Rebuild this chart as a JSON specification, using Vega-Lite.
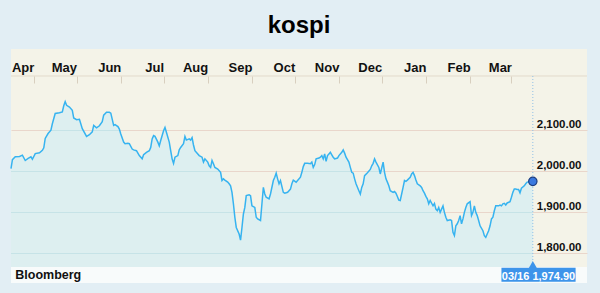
{
  "$schema": "https://vega.github.io/schema/vega-lite/v6.json",
  "width": 576,
  "height": 234,
  "autosize": {"type": "none"},
  "padding": {"left": 11, "top": 49, "right": 13, "bottom": 10},
  "background": "#e2eef4",
  "title": {"text": "kospi", "font": "Liberation Sans, Arial, sans-serif", "fontSize": 24, "fontWeight": "bold", "color": "#000000", "anchor": "middle", "baseline": "alphabetic", "offset": -8},
  "config": {"view": {"fill": "#f4f3e8", "stroke": null}, "font": "Liberation Sans, Arial, sans-serif"},
  "data": {"values": [
    {"date": "2015-03-16", "value": 2006}, {"date": "2015-03-17", "value": 2028}, {"date": "2015-03-19", "value": 2035}, {"date": "2015-03-22", "value": 2036}, {"date": "2015-03-24", "value": 2039}, {"date": "2015-03-26", "value": 2026}, {"date": "2015-03-28", "value": 2031}, {"date": "2015-03-30", "value": 2035}, {"date": "2015-03-31", "value": 2029},
    {"date": "2015-04-02", "value": 2043}, {"date": "2015-04-05", "value": 2045}, {"date": "2015-04-07", "value": 2051}, {"date": "2015-04-08", "value": 2057}, {"date": "2015-04-09", "value": 2080}, {"date": "2015-04-11", "value": 2092}, {"date": "2015-04-13", "value": 2100}, {"date": "2015-04-14", "value": 2116}, {"date": "2015-04-16", "value": 2141}, {"date": "2015-04-19", "value": 2143}, {"date": "2015-04-21", "value": 2145}, {"date": "2015-04-22", "value": 2160}, {"date": "2015-04-23", "value": 2170}, {"date": "2015-04-24", "value": 2161}, {"date": "2015-04-26", "value": 2157}, {"date": "2015-04-28", "value": 2149}, {"date": "2015-04-29", "value": 2130},
    {"date": "2015-05-01", "value": 2126}, {"date": "2015-05-03", "value": 2127}, {"date": "2015-05-05", "value": 2104}, {"date": "2015-05-08", "value": 2085}, {"date": "2015-05-10", "value": 2089}, {"date": "2015-05-12", "value": 2096}, {"date": "2015-05-13", "value": 2112}, {"date": "2015-05-15", "value": 2106}, {"date": "2015-05-17", "value": 2111}, {"date": "2015-05-19", "value": 2121}, {"date": "2015-05-20", "value": 2137}, {"date": "2015-05-22", "value": 2144}, {"date": "2015-05-24", "value": 2144}, {"date": "2015-05-25", "value": 2142}, {"date": "2015-05-27", "value": 2112}, {"date": "2015-05-28", "value": 2114}, {"date": "2015-05-30", "value": 2109}, {"date": "2015-05-31", "value": 2103},
    {"date": "2015-06-01", "value": 2091}, {"date": "2015-06-03", "value": 2071}, {"date": "2015-06-04", "value": 2067}, {"date": "2015-06-06", "value": 2068}, {"date": "2015-06-07", "value": 2067}, {"date": "2015-06-09", "value": 2054}, {"date": "2015-06-10", "value": 2052}, {"date": "2015-06-12", "value": 2050}, {"date": "2015-06-13", "value": 2044}, {"date": "2015-06-14", "value": 2038}, {"date": "2015-06-16", "value": 2030}, {"date": "2015-06-17", "value": 2040}, {"date": "2015-06-19", "value": 2046}, {"date": "2015-06-21", "value": 2050}, {"date": "2015-06-22", "value": 2058}, {"date": "2015-06-23", "value": 2079}, {"date": "2015-06-24", "value": 2087}, {"date": "2015-06-25", "value": 2085}, {"date": "2015-06-27", "value": 2071}, {"date": "2015-06-28", "value": 2062}, {"date": "2015-06-29", "value": 2075},
    {"date": "2015-07-01", "value": 2099}, {"date": "2015-07-02", "value": 2107}, {"date": "2015-07-03", "value": 2095}, {"date": "2015-07-05", "value": 2071}, {"date": "2015-07-06", "value": 2050}, {"date": "2015-07-07", "value": 2030}, {"date": "2015-07-08", "value": 2019}, {"date": "2015-07-09", "value": 2034}, {"date": "2015-07-11", "value": 2038}, {"date": "2015-07-12", "value": 2052}, {"date": "2015-07-13", "value": 2058}, {"date": "2015-07-15", "value": 2067}, {"date": "2015-07-16", "value": 2085}, {"date": "2015-07-17", "value": 2076}, {"date": "2015-07-19", "value": 2079}, {"date": "2015-07-20", "value": 2076}, {"date": "2015-07-21", "value": 2082}, {"date": "2015-07-22", "value": 2064}, {"date": "2015-07-23", "value": 2050}, {"date": "2015-07-26", "value": 2038}, {"date": "2015-07-28", "value": 2034}, {"date": "2015-07-29", "value": 2022}, {"date": "2015-07-30", "value": 2030},
    {"date": "2015-08-01", "value": 2022}, {"date": "2015-08-02", "value": 2013}, {"date": "2015-08-03", "value": 2009}, {"date": "2015-08-04", "value": 2026}, {"date": "2015-08-05", "value": 2018}, {"date": "2015-08-06", "value": 2009}, {"date": "2015-08-08", "value": 2005}, {"date": "2015-08-10", "value": 1997}, {"date": "2015-08-11", "value": 1977}, {"date": "2015-08-12", "value": 1981}, {"date": "2015-08-13", "value": 1978}, {"date": "2015-08-15", "value": 1973}, {"date": "2015-08-16", "value": 1969}, {"date": "2015-08-17", "value": 1964}, {"date": "2015-08-18", "value": 1948}, {"date": "2015-08-19", "value": 1920}, {"date": "2015-08-20", "value": 1887}, {"date": "2015-08-21", "value": 1862}, {"date": "2015-08-23", "value": 1846}, {"date": "2015-08-24", "value": 1831}, {"date": "2015-08-25", "value": 1862}, {"date": "2015-08-26", "value": 1895}, {"date": "2015-08-27", "value": 1911}, {"date": "2015-08-28", "value": 1940}, {"date": "2015-08-30", "value": 1942}, {"date": "2015-08-31", "value": 1940},
    {"date": "2015-09-01", "value": 1915}, {"date": "2015-09-02", "value": 1913}, {"date": "2015-09-03", "value": 1911}, {"date": "2015-09-04", "value": 1887}, {"date": "2015-09-05", "value": 1883}, {"date": "2015-09-07", "value": 1879}, {"date": "2015-09-08", "value": 1920}, {"date": "2015-09-09", "value": 1960}, {"date": "2015-09-10", "value": 1944}, {"date": "2015-09-11", "value": 1936}, {"date": "2015-09-13", "value": 1932}, {"date": "2015-09-14", "value": 1944}, {"date": "2015-09-16", "value": 1977}, {"date": "2015-09-17", "value": 1985}, {"date": "2015-09-18", "value": 1995}, {"date": "2015-09-19", "value": 1981}, {"date": "2015-09-20", "value": 1969}, {"date": "2015-09-21", "value": 1977}, {"date": "2015-09-23", "value": 1948}, {"date": "2015-09-24", "value": 1946}, {"date": "2015-09-26", "value": 1948}, {"date": "2015-09-27", "value": 1952}, {"date": "2015-09-28", "value": 1956}, {"date": "2015-09-29", "value": 1969}, {"date": "2015-09-30", "value": 1978},
    {"date": "2015-10-02", "value": 1973}, {"date": "2015-10-03", "value": 1977}, {"date": "2015-10-05", "value": 1985}, {"date": "2015-10-06", "value": 1997}, {"date": "2015-10-07", "value": 2011}, {"date": "2015-10-08", "value": 2019}, {"date": "2015-10-10", "value": 2019}, {"date": "2015-10-12", "value": 2018}, {"date": "2015-10-13", "value": 2022}, {"date": "2015-10-14", "value": 2009}, {"date": "2015-10-15", "value": 2016}, {"date": "2015-10-16", "value": 2030}, {"date": "2015-10-18", "value": 2032}, {"date": "2015-10-19", "value": 2034}, {"date": "2015-10-20", "value": 2038}, {"date": "2015-10-21", "value": 2030}, {"date": "2015-10-22", "value": 2042}, {"date": "2015-10-23", "value": 2024}, {"date": "2015-10-24", "value": 2038}, {"date": "2015-10-25", "value": 2042}, {"date": "2015-10-26", "value": 2046}, {"date": "2015-10-27", "value": 2040}, {"date": "2015-10-28", "value": 2034}, {"date": "2015-10-29", "value": 2030}, {"date": "2015-10-31", "value": 2032},
    {"date": "2015-11-01", "value": 2038}, {"date": "2015-11-03", "value": 2046}, {"date": "2015-11-04", "value": 2052}, {"date": "2015-11-05", "value": 2044}, {"date": "2015-11-06", "value": 2034}, {"date": "2015-11-08", "value": 2022}, {"date": "2015-11-09", "value": 2009}, {"date": "2015-11-10", "value": 1997}, {"date": "2015-11-11", "value": 1995}, {"date": "2015-11-12", "value": 1981}, {"date": "2015-11-13", "value": 1969}, {"date": "2015-11-15", "value": 1952}, {"date": "2015-11-16", "value": 1944}, {"date": "2015-11-17", "value": 1960}, {"date": "2015-11-18", "value": 1969}, {"date": "2015-11-19", "value": 1989}, {"date": "2015-11-21", "value": 1996}, {"date": "2015-11-23", "value": 2004}, {"date": "2015-11-24", "value": 2013}, {"date": "2015-11-25", "value": 2019}, {"date": "2015-11-26", "value": 2030}, {"date": "2015-11-27", "value": 2022}, {"date": "2015-11-29", "value": 2009}, {"date": "2015-11-30", "value": 1993},
    {"date": "2015-12-02", "value": 2022}, {"date": "2015-12-03", "value": 1997}, {"date": "2015-12-04", "value": 1981}, {"date": "2015-12-05", "value": 1973}, {"date": "2015-12-06", "value": 1964}, {"date": "2015-12-07", "value": 1952}, {"date": "2015-12-09", "value": 1948}, {"date": "2015-12-10", "value": 1950}, {"date": "2015-12-11", "value": 1946}, {"date": "2015-12-12", "value": 1938}, {"date": "2015-12-13", "value": 1929}, {"date": "2015-12-14", "value": 1928}, {"date": "2015-12-15", "value": 1944}, {"date": "2015-12-16", "value": 1960}, {"date": "2015-12-17", "value": 1977}, {"date": "2015-12-18", "value": 1975}, {"date": "2015-12-19", "value": 1978}, {"date": "2015-12-21", "value": 1985}, {"date": "2015-12-22", "value": 1993}, {"date": "2015-12-23", "value": 1997}, {"date": "2015-12-24", "value": 1989}, {"date": "2015-12-25", "value": 1978}, {"date": "2015-12-26", "value": 1969}, {"date": "2015-12-28", "value": 1964}, {"date": "2015-12-29", "value": 1960}, {"date": "2015-12-30", "value": 1952}, {"date": "2015-12-31", "value": 1946},
    {"date": "2016-01-01", "value": 1938}, {"date": "2016-01-02", "value": 1932}, {"date": "2016-01-03", "value": 1920}, {"date": "2016-01-04", "value": 1928}, {"date": "2016-01-06", "value": 1915}, {"date": "2016-01-07", "value": 1921}, {"date": "2016-01-08", "value": 1907}, {"date": "2016-01-09", "value": 1903}, {"date": "2016-01-10", "value": 1911}, {"date": "2016-01-11", "value": 1899}, {"date": "2016-01-12", "value": 1907}, {"date": "2016-01-13", "value": 1915}, {"date": "2016-01-14", "value": 1899}, {"date": "2016-01-15", "value": 1887}, {"date": "2016-01-16", "value": 1879}, {"date": "2016-01-18", "value": 1881}, {"date": "2016-01-19", "value": 1879}, {"date": "2016-01-20", "value": 1850}, {"date": "2016-01-21", "value": 1842}, {"date": "2016-01-22", "value": 1866}, {"date": "2016-01-23", "value": 1871}, {"date": "2016-01-24", "value": 1879}, {"date": "2016-01-25", "value": 1891}, {"date": "2016-01-26", "value": 1871}, {"date": "2016-01-27", "value": 1883}, {"date": "2016-01-28", "value": 1899}, {"date": "2016-01-29", "value": 1911}, {"date": "2016-01-30", "value": 1920},
    {"date": "2016-02-01", "value": 1925}, {"date": "2016-02-02", "value": 1891}, {"date": "2016-02-03", "value": 1899}, {"date": "2016-02-04", "value": 1915}, {"date": "2016-02-05", "value": 1899}, {"date": "2016-02-06", "value": 1891}, {"date": "2016-02-07", "value": 1879}, {"date": "2016-02-08", "value": 1866}, {"date": "2016-02-10", "value": 1854}, {"date": "2016-02-11", "value": 1842}, {"date": "2016-02-12", "value": 1838}, {"date": "2016-02-13", "value": 1846}, {"date": "2016-02-14", "value": 1854}, {"date": "2016-02-15", "value": 1866}, {"date": "2016-02-16", "value": 1883}, {"date": "2016-02-17", "value": 1887}, {"date": "2016-02-18", "value": 1903}, {"date": "2016-02-19", "value": 1915}, {"date": "2016-02-21", "value": 1915}, {"date": "2016-02-22", "value": 1917}, {"date": "2016-02-23", "value": 1915}, {"date": "2016-02-24", "value": 1920}, {"date": "2016-02-25", "value": 1921}, {"date": "2016-02-26", "value": 1917}, {"date": "2016-02-27", "value": 1922}, {"date": "2016-02-29", "value": 1925},
    {"date": "2016-03-01", "value": 1936}, {"date": "2016-03-02", "value": 1948}, {"date": "2016-03-03", "value": 1956}, {"date": "2016-03-04", "value": 1956}, {"date": "2016-03-05", "value": 1955}, {"date": "2016-03-06", "value": 1955}, {"date": "2016-03-07", "value": 1947}, {"date": "2016-03-08", "value": 1958}, {"date": "2016-03-10", "value": 1964}, {"date": "2016-03-11", "value": 1969}, {"date": "2016-03-12", "value": 1973}, {"date": "2016-03-14", "value": 1974}, {"date": "2016-03-16", "value": 1974.9}
  ]},
  "layer": [
    {
      "mark": {"type": "area", "opacity": 1, "interpolate": "linear", "fill": {"gradient": "linear", "x1": 0, "y1": 0, "x2": 0, "y2": 1, "stops": [
        {"offset": 0, "color": "#ddeff0"},
        {"offset": 0.1575, "color": "#ddeff0"}, {"offset": 0.1575, "color": "#c6e3e7"}, {"offset": 0.1635, "color": "#c6e3e7"}, {"offset": 0.1635, "color": "#ddeff0"},
        {"offset": 0.3827, "color": "#ddeff0"}, {"offset": 0.3827, "color": "#c6e3e7"}, {"offset": 0.3887, "color": "#c6e3e7"}, {"offset": 0.3887, "color": "#ddeff0"},
        {"offset": 0.6076, "color": "#ddeff0"}, {"offset": 0.6076, "color": "#c6e3e7"}, {"offset": 0.6136, "color": "#c6e3e7"}, {"offset": 0.6136, "color": "#ddeff0"},
        {"offset": 0.8332, "color": "#ddeff0"}, {"offset": 0.8332, "color": "#c6e3e7"}, {"offset": 0.8392, "color": "#c6e3e7"}, {"offset": 0.8392, "color": "#ddeff0"},
        {"offset": 1, "color": "#ddeff0"}
      ]}},
      "encoding": {
        "x": {"field": "date", "type": "temporal", "title": null,
          "scale": {"type": "utc", "domain": [{"year": 2015, "month": 3, "date": 16, "utc": true}, {"year": 2016, "month": 4, "date": 23, "utc": true}]},
          "axis": {"orient": "top", "offset": -34, "title": null, "format": "%b",
            "values": [
              {"year": 2015, "month": 4, "date": 1, "utc": true}, {"year": 2015, "month": 5, "date": 1, "utc": true}, {"year": 2015, "month": 6, "date": 1, "utc": true}, {"year": 2015, "month": 7, "date": 1, "utc": true}, {"year": 2015, "month": 8, "date": 1, "utc": true}, {"year": 2015, "month": 9, "date": 1, "utc": true}, {"year": 2015, "month": 10, "date": 1, "utc": true}, {"year": 2015, "month": 11, "date": 1, "utc": true}, {"year": 2015, "month": 12, "date": 1, "utc": true}, {"year": 2016, "month": 1, "date": 1, "utc": true}, {"year": 2016, "month": 2, "date": 1, "utc": true}, {"year": 2016, "month": 3, "date": 1, "utc": true}
            ],
            "domain": false, "grid": false, "ticks": true, "tickSize": 7, "tickColor": "#d8cfbf", "tickWidth": 1,
            "labelAlign": "right", "labelBaseline": "alphabetic", "labelPadding": 5,
            "labelFontSize": 13, "labelFontWeight": "bold", "labelColor": "#111111",
            "labelFlush": false, "labelOverlap": false, "labelBound": false, "zindex": 1}},
        "y": {"field": "value", "type": "quantitative", "title": null,
          "scale": {"domain": [1726, 2299], "zero": false, "nice": false},
          "axis": {"orient": "right", "title": null, "values": [1800, 1900, 2000, 2100], "format": ",.2f",
            "ticks": false, "domain": false, "grid": true, "gridColor": "#e9d6cb", "gridWidth": 1,
            "labelAlign": "right", "labelBaseline": "alphabetic", "labelPadding": -6, "labelOffset": -2.5,
            "labelFontSize": 11.5, "labelFontWeight": "bold", "labelColor": "#111111",
            "labelFlush": false, "labelOverlap": false, "labelBound": false, "zindex": 0}},
        "y2": {"datum": 1726}
      }
    },
    {
      "data": {"values": [{}]},
      "mark": {"type": "rule", "color": "#e2dacb", "strokeWidth": 1},
      "encoding": {"y": {"datum": 2232.9, "type": "quantitative", "title": null}}
    },
    {
      "mark": {"type": "line", "color": "#36b3f0", "strokeWidth": 1.5, "interpolate": "linear"},
      "encoding": {
        "x": {"field": "date", "type": "temporal", "title": null},
        "y": {"field": "value", "type": "quantitative", "title": null}
      }
    },
    {
      "data": {"values": [{}]},
      "mark": {"type": "rule", "color": "#8fc0e6", "strokeWidth": 1, "strokeDash": [1, 2]},
      "encoding": {
        "x": {"datum": {"year": 2016, "month": 3, "date": 16, "utc": true}, "type": "temporal", "title": null},
        "y": {"datum": 2232.9, "type": "quantitative", "title": null},
        "y2": {"datum": 1777.4}
      }
    },
    {
      "data": {"values": [{}]},
      "mark": {"type": "rect", "color": "#f8fbfb", "opacity": 1},
      "encoding": {
        "x": {"datum": {"year": 2015, "month": 3, "date": 16, "utc": true}, "type": "temporal", "title": null},
        "x2": {"datum": {"year": 2016, "month": 4, "date": 23, "utc": true}},
        "y": {"datum": 1765.2, "type": "quantitative", "title": null},
        "y2": {"datum": 1726}
      }
    },
    {
      "data": {"values": [{}]},
      "mark": {"type": "rect", "color": "#3d94ea", "opacity": 1},
      "encoding": {
        "x": {"datum": {"year": 2016, "month": 2, "date": 23, "utc": true}, "type": "temporal", "title": null},
        "x2": {"datum": {"year": 2016, "month": 4, "date": 15, "utc": true}},
        "y": {"datum": 1763.5, "type": "quantitative", "title": null},
        "y2": {"datum": 1729.2}
      }
    },
    {
      "data": {"values": [{}]},
      "mark": {"type": "point", "shape": "triangle-up", "filled": true, "size": 64, "color": "#3d94ea", "opacity": 1},
      "encoding": {
        "x": {"datum": {"year": 2016, "month": 3, "date": 16, "utc": true}, "type": "temporal", "title": null},
        "y": {"datum": 1771.3, "type": "quantitative", "title": null}
      }
    },
    {
      "data": {"values": [{}]},
      "mark": {"type": "text", "text": "03/16 1,974.90", "color": "#ffffff", "fontSize": 11, "fontWeight": "bold", "align": "center", "baseline": "alphabetic"},
      "encoding": {
        "x": {"datum": {"year": 2016, "month": 3, "date": 20, "utc": true}, "type": "temporal", "title": null},
        "y": {"datum": 1733.4, "type": "quantitative", "title": null}
      }
    },
    {
      "data": {"values": [{}]},
      "mark": {"type": "text", "text": "Bloomberg", "color": "#111111", "fontSize": 12.5, "fontWeight": "bold", "align": "left", "baseline": "alphabetic"},
      "encoding": {
        "x": {"datum": {"year": 2015, "month": 3, "date": 19, "utc": true}, "type": "temporal", "title": null},
        "y": {"datum": 1735.1, "type": "quantitative", "title": null}
      }
    },
    {
      "data": {"values": [{"date": "2016-03-16", "value": 1974.9}]},
      "mark": {"type": "point", "filled": true, "size": 70, "fill": "#3a79df", "stroke": "#1b3d80", "strokeWidth": 1.2, "opacity": 1},
      "encoding": {
        "x": {"field": "date", "type": "temporal", "title": null},
        "y": {"field": "value", "type": "quantitative", "title": null}
      }
    }
  ]
}
